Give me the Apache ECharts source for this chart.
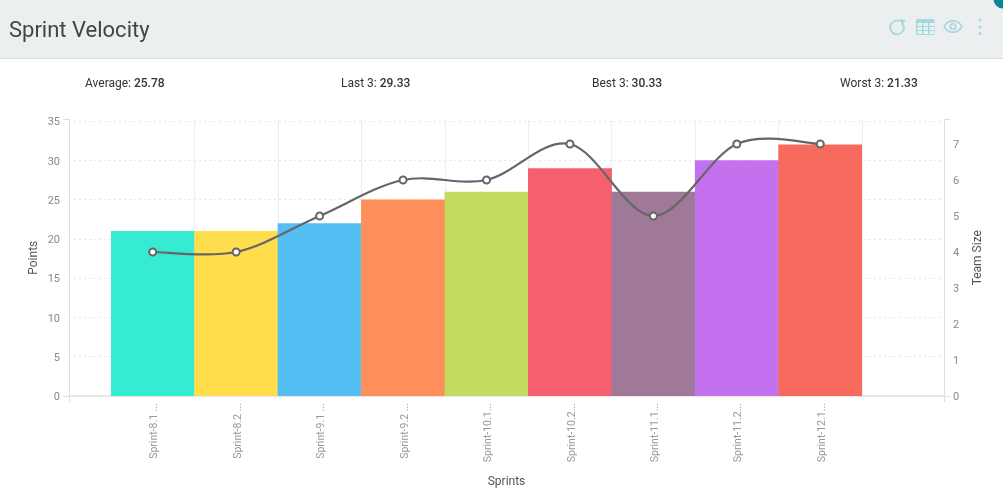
<!DOCTYPE html>
<html><head><meta charset="utf-8">
<style>html,body{margin:0;padding:0;background:#fff}#c{width:1003px;height:503px}</style>
<script src="https://cdn.jsdelivr.net/npm/echarts@6/dist/echarts.min.js"></script>
</head><body><div id="c"></div>
<script>
const categories = ['Sprint-8.1 ...','Sprint-8.2 ...','Sprint-9.1 ...','Sprint-9.2 ...','Sprint-10.1...','Sprint-10.2...','Sprint-11.1...','Sprint-11.2...','Sprint-12.1...'];
const points = [21,21,22,25,26,29,26,30,32];
const teamSize = [4,4,5,6,6,7,5,7,7];
const palette = ['#36EBD4','#FFDD4D','#52BEF2','#FF8F5A','#C3DB5E','#F6606E','#A07898','#C471F0','#F76B5F'];
const pointTicks = [0,5,10,15,20,25,30,35];
const teamTicks = [0,1,2,3,4,5,6,7];
const stats = [['Average: ','25.78'],['Last 3: ','29.33'],['Best 3: ','30.33'],['Worst 3: ','21.33']];

const FONT='Roboto';
const AXIS='#dedede', ICON='#A6D8DD', HEAD='#ECEFF0';
const pMax=35.19, tMax=7.68;
const statX=[85,341,592,840];
function valueAxis(gridIndex,pos,max,interval,ticks,name,gap){
  return {type:'value',gridIndex,position:pos,min:0,max,interval,name,nameLocation:'middle',nameGap:gap,nameMoveOverlap:false,
    nameTextStyle:{fontFamily:FONT,fontSize:12,color:'#555'},
    axisLine:{show:true,lineStyle:{color:AXIS,width:1}},
    axisTick:{show:true,length:6,customValues:[0,max],lineStyle:{color:AXIS}},
    axisLabel:{customValues:ticks,fontFamily:FONT,fontSize:11,color:'#888',margin:9,verticalAlign:'top',lineHeight:3},
    splitLine:{show:false}};
}
function hiddenAxis(gridIndex,max,interval){
  return {type:'value',gridIndex,min:0,max,interval,show:false,splitLine:{show:false}};
}
// Catmull-Rom segment between consecutive team-size points, positioned by the axes.
function renderCurve(params,api){
  const i=api.value(0), n=teamSize.length;
  if(i>=n-1) return null;
  const pt=k=>{const j=Math.max(0,Math.min(n-1,k));return api.coord([j,teamSize[j]]);};
  const p0=pt(i-1),p1=pt(i),p2=pt(i+1),p3=pt(i+2);
  return {type:'bezierCurve',silent:true,shape:{
    x1:p1[0],y1:p1[1],x2:p2[0],y2:p2[1],
    cpx1:p1[0]+(p2[0]-p0[0])/6,cpy1:p1[1]+(p2[1]-p0[1])/6,
    cpx2:p2[0]-(p3[0]-p1[0])/6,cpy2:p2[1]-(p3[1]-p1[1])/6},
    style:{stroke:'#666',fill:null,lineWidth:2.2}};
}
const graphics=[
  {type:'rect',silent:true,z:-1,shape:{x:0,y:0,width:1003,height:58},style:{fill:HEAD}},
  {type:'rect',silent:true,z:-1,shape:{x:0,y:58,width:1003,height:1},style:{fill:'#d9dcde'}},
  {type:'text',x:9,y:31,style:{text:'Sprint Velocity',font:'22px Roboto',fill:'#444',textVerticalAlign:'middle'}},
  {type:'circle',shape:{cx:1003,cy:-1,r:9.5},style:{fill:'#0E8391'}},
  {type:'arc',shape:{cx:897,cy:27.5,r:6.8,startAngle:-0.5,endAngle:-1.15,clockwise:true},style:{stroke:ICON,fill:null,lineWidth:1.9}},
  {type:'polygon',shape:{points:[[899.5,18.5],[905.5,20.5],[902,25.5]]},style:{fill:ICON}},
  {type:'rect',shape:{x:916,y:19,width:18.5,height:16,r:1},style:{fill:ICON}},
  {type:'bezierCurve',shape:{x1:944,y1:26.5,x2:962,y2:26.5,cpx1:948,cpy1:19,cpx2:958,cpy2:19},style:{stroke:ICON,fill:null,lineWidth:1.6}},
  {type:'bezierCurve',shape:{x1:944,y1:26.5,x2:962,y2:26.5,cpx1:948,cpy1:34,cpx2:958,cpy2:34},style:{stroke:ICON,fill:null,lineWidth:1.6}},
  {type:'circle',shape:{cx:953,cy:26.5,r:2.7},style:{stroke:ICON,fill:HEAD,lineWidth:1.6}},
  {type:'circle',shape:{cx:980,cy:20,r:1.6},style:{fill:ICON}},
  {type:'circle',shape:{cx:980,cy:27,r:1.6},style:{fill:ICON}},
  {type:'circle',shape:{cx:980,cy:33.5,r:1.6},style:{fill:ICON}}
];
[917.5,923.5,929.5].forEach(x=>[23,27,31].forEach(y=>graphics.push(
  {type:'rect',shape:{x,y,width:4.5,height:3},style:{fill:'#E4F3F4'}})));
stats.forEach((s,i)=>graphics.push({type:'text',x:statX[i],y:84,style:{
  text:'{a|'+s[0]+'}{b|'+s[1]+'}',textVerticalAlign:'middle',
  rich:{a:{font:'12px Roboto',fill:'#333'},b:{font:'500 12px Roboto',fill:'#333'}}}}));

const chart=echarts.init(document.getElementById('c'),null,{renderer:'canvas'});
chart.setOption({
  animation:false,
  backgroundColor:'#fff',
  textStyle:{fontFamily:FONT},
  graphic:graphics,
  grid:[
    {left:69,width:875,top:119.5,height:276.5},
    {left:111,width:751,top:119.5,height:276.5}
  ],
  xAxis:[
    {type:'value',gridIndex:0,min:0,max:1,interval:1,name:'Sprints',nameLocation:'middle',nameGap:80,
     nameTextStyle:{fontFamily:FONT,fontSize:12,color:'#555'},
     axisLine:{show:true,lineStyle:{color:AXIS,width:1.5}},axisTick:{show:true,length:6,lineStyle:{color:AXIS}},
     axisLabel:{show:false},splitLine:{show:false}},
    {type:'category',gridIndex:1,data:categories,
     axisLine:{show:false},axisTick:{show:false},
     axisLabel:{rotate:90,interval:0,fontFamily:FONT,fontSize:10.5,color:'#999',margin:7,verticalAlign:'top',lineHeight:4},
     splitLine:{show:true,showMinLine:false,interval:0,lineStyle:{color:'#eeeeee',width:1}}}
  ],
  yAxis:[
    valueAxis(0,'left',pMax,5,pointTicks,'Points',29),
    valueAxis(0,'right',tMax,1,teamTicks,'Team Size',28),
    hiddenAxis(1,pMax,5),
    hiddenAxis(1,tMax,1),
    {type:'value',gridIndex:0,position:'left',min:0,max:pMax,interval:5,
     axisLine:{show:false},axisTick:{show:false},axisLabel:{show:false},
     splitLine:{show:true,showMinLine:false,showMaxLine:false,lineStyle:{color:'#e8e8e8',type:[2,3],width:1}}}
  ],
  series:[
    {type:'bar',xAxisIndex:1,yAxisIndex:2,barWidth:'100.6%',
     data:points.map((v,i)=>({value:v,itemStyle:{color:palette[i]}}))},
    {type:'custom',xAxisIndex:1,yAxisIndex:3,z:4,renderItem:renderCurve,
     encode:{x:0,y:1},data:teamSize.map((v,i)=>[i,v])},
    {type:'line',xAxisIndex:1,yAxisIndex:3,data:teamSize,z:5,
     symbol:'circle',symbolSize:7,showSymbol:true,
     lineStyle:{width:0,opacity:0},itemStyle:{color:'#fff',borderColor:'#666',borderWidth:2,opacity:1}}
  ]
});
</script></body></html>
